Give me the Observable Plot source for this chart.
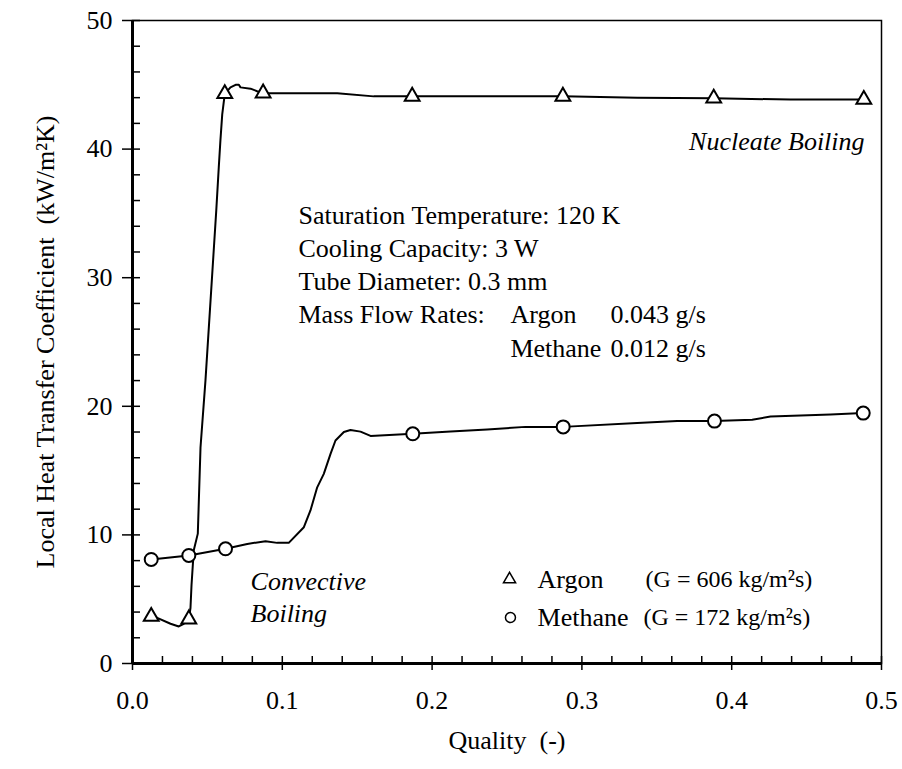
<!DOCTYPE html>
<html><head><meta charset="utf-8">
<script src="https://cdn.jsdelivr.net/npm/d3@7"></script>
<script src="https://cdn.jsdelivr.net/npm/@observablehq/plot@0.6"></script>
<style>body{margin:0;background:#fff}</style>
</head><body><div id="chart"></div>
<script>
// Argon measured curve (quality, kW/m2K)
const argonQ = [0.0125, 0.0165, 0.0254, 0.0309, 0.0342, 0.0376, 0.0387, 0.0394, 0.0409, 0.0436, 0.0454, 0.0487, 0.0559, 0.0576, 0.0587, 0.0599, 0.0616, 0.0654, 0.0688, 0.0710, 0.0721, 0.0788, 0.0832, 0.0872, 0.1367, 0.1610, 0.1867, 0.2873, 0.3370, 0.3880, 0.4393, 0.4882];
const argonH = [3.65, 3.55, 3.09, 2.88, 3.09, 3.45, 4.3, 6.1, 8.8, 10.1, 16.8, 22.0, 35.2, 38.6, 40.7, 42.7, 44.3, 44.8, 45.0, 45.0, 44.8, 44.7, 44.5, 44.35, 44.35, 44.1, 44.1, 44.1, 44.0, 43.95, 43.85, 43.85];
const argonMarkQ = [0.0125, 0.0376, 0.0616, 0.0872, 0.1867, 0.2873, 0.3880, 0.4882];
const argonMarkH = [3.65, 3.45, 44.3, 44.35, 44.1, 44.1, 43.95, 43.85];
// Methane measured curve
const methaneQ = [0.0125, 0.0376, 0.0621, 0.0766, 0.0888, 0.0966, 0.1043, 0.1144, 0.1188, 0.1233, 0.1277, 0.1322, 0.1355, 0.1411, 0.1455, 0.1522, 0.1589, 0.1871, 0.2123, 0.2368, 0.2623, 0.2875, 0.3369, 0.3636, 0.3885, 0.4137, 0.4259, 0.4660, 0.4878];
const methaneH = [8.09, 8.4, 8.92, 9.3, 9.51, 9.38, 9.38, 10.6, 11.9, 13.7, 14.75, 16.3, 17.34, 18.0, 18.16, 18.03, 17.7, 17.86, 18.04, 18.2, 18.4, 18.4, 18.7, 18.85, 18.85, 18.95, 19.2, 19.36, 19.47];
const methaneMarkQ = [0.0125, 0.0376, 0.0621, 0.1871, 0.2875, 0.3885, 0.4878];
const methaneMarkH = [8.09, 8.4, 8.92, 17.86, 18.4, 18.85, 19.47];

// Axes
const xMajor = [0, 0.1, 0.2, 0.3, 0.4, 0.5];
const xMinor = [0.02,0.04,0.06,0.08,0.12,0.14,0.16,0.18,0.22,0.24,0.26,0.28,0.32,0.34,0.36,0.38,0.42,0.44,0.46,0.48];
const yMajor = [0, 10, 20, 30, 40, 50];
const yMinor = [2,4,6,8,12,14,16,18,22,24,26,28,32,34,36,38,42,44,46,48];
const xTitle = "Quality  (-)";
const yTitle = "Local Heat Transfer Coefficient  (kW/m²K)";

// Annotations
const infoText = ["Saturation Temperature: 120 K", "Cooling Capacity: 3 W", "Tube Diameter: 0.3 mm", "Mass Flow Rates:", "Argon", "0.043 g/s", "Methane", "0.012 g/s"];
const infoQ = [0.1108, 0.1108, 0.1108, 0.1108, 0.2523, 0.3191, 0.2523, 0.3191];
const infoH = [34.84, 32.27, 29.7, 27.1, 27.1, 27.1, 24.5, 24.5];
const nucleateText = "Nucleate Boiling";
const nucleateQ = 0.4887, nucleateH = 40.6;
const convText = ["Convective", "Boiling"];
const convQ = [0.0788, 0.0788];
const convH = [6.38, 3.86];
const legendName = ["Argon", "Methane"];
const legendG = ["(G = 606 kg/m²s)", "(G = 172 kg/m²s)"];
const legendQ = [0.2517, 0.2523];
const legendH = [6.55, 3.58];
const legendTextQ = [0.2704, 0.2704];
const legendGQ = [0.3425, 0.3411];

const W = 902, H = 769, ML = 132, MR = 21, MT = 20, MB = 106;
const dxPx = 0.5 / (W - ML - MR), dyPx = 50 / (H - MT - MB);
const FS = 26;
const font = "Liberation Serif, Times New Roman, serif";
const idx = a => a.map((_, i) => i);

const chart = Plot.plot({
  width: W, height: H,
  marginLeft: ML, marginRight: MR, marginTop: MT, marginBottom: MB,
  x: {domain: [0, 0.5]},
  y: {domain: [0, 50]},
  style: {fontFamily: font, fontSize: FS + "px", background: "#fff", color: "#000"},
  marks: [
    Plot.frame({stroke: "#000", strokeWidth: 1.5}),
    Plot.axisX({ticks: xMajor, tickFormat: d3.format(".1f"), tickSize: 0, tickPadding: 27, fontSize: FS, label: null}),
    Plot.axisY({ticks: yMajor, tickSize: 0, tickPadding: 20, fontSize: FS, label: null}),
    Plot.ruleX(xMinor, {x: d => d, y1: 0, y2: 7 * dyPx, stroke: "#000", strokeWidth: 1.5}),
    Plot.ruleX(xMajor, {x: d => d, y1: -7 * dyPx, y2: 7 * dyPx, stroke: "#000", strokeWidth: 1.5}),
    Plot.ruleY(yMinor, {y: d => d, x1: 0, x2: 8 * dxPx, stroke: "#000", strokeWidth: 1.5}),
    Plot.ruleY(yMajor, {y: d => d, x1: -10 * dxPx, x2: 8 * dxPx, stroke: "#000", strokeWidth: 1.5}),
    Plot.ruleY([0], {stroke: "#000", strokeWidth: 3}),
    Plot.ruleX([0], {stroke: "#000", strokeWidth: 3}),
    Plot.line(idx(argonQ), {x: i => argonQ[i], y: i => argonH[i], stroke: "#000", strokeWidth: 2}),
    Plot.line(idx(methaneQ), {x: i => methaneQ[i], y: i => methaneH[i], stroke: "#000", strokeWidth: 2}),
    Plot.dot(idx(argonMarkQ), {x: i => argonMarkQ[i], y: i => argonMarkH[i], symbol: "triangle", r: 5.5, fill: "#fff", stroke: "#000", strokeWidth: 2}),
    Plot.dot(idx(methaneMarkQ), {x: i => methaneMarkQ[i], y: i => methaneMarkH[i], symbol: "circle", r: 6.5, fill: "#fff", stroke: "#000", strokeWidth: 2}),
    Plot.text(idx(infoText), {x: i => infoQ[i], y: i => infoH[i], text: i => infoText[i], textAnchor: "start", fontSize: FS}),
    Plot.text([nucleateText], {x: () => nucleateQ, y: () => nucleateH, text: d => d, textAnchor: "end", fontSize: FS, fontStyle: "italic"}),
    Plot.text(idx(convText), {x: i => convQ[i], y: i => convH[i], text: i => convText[i], textAnchor: "start", fontSize: FS, fontStyle: "italic"}),
    Plot.dot([0], {x: () => legendQ[0], y: () => legendH[0], symbol: "triangle", r: 4.5, fill: "#fff", stroke: "#000", strokeWidth: 1.5}),
    Plot.dot([1], {x: () => legendQ[1], y: () => legendH[1], symbol: "circle", r: 5, fill: "#fff", stroke: "#000", strokeWidth: 1.5}),
    Plot.text(idx(legendName), {x: i => legendTextQ[i], y: i => legendH[i], text: i => legendName[i], textAnchor: "start", fontSize: FS}),
    Plot.text(idx(legendG), {x: i => legendGQ[i], y: i => legendH[i], text: i => legendG[i], textAnchor: "start", fontSize: 24}),
    Plot.text([xTitle], {frameAnchor: "bottom", dy: 85, fontSize: FS, textAnchor: "middle"}),
    Plot.text([yTitle], {frameAnchor: "left", dx: -87, rotate: -90, fontSize: FS, textAnchor: "middle"})
  ]
});
document.getElementById("chart").appendChild(chart);
</script>
</body></html>
